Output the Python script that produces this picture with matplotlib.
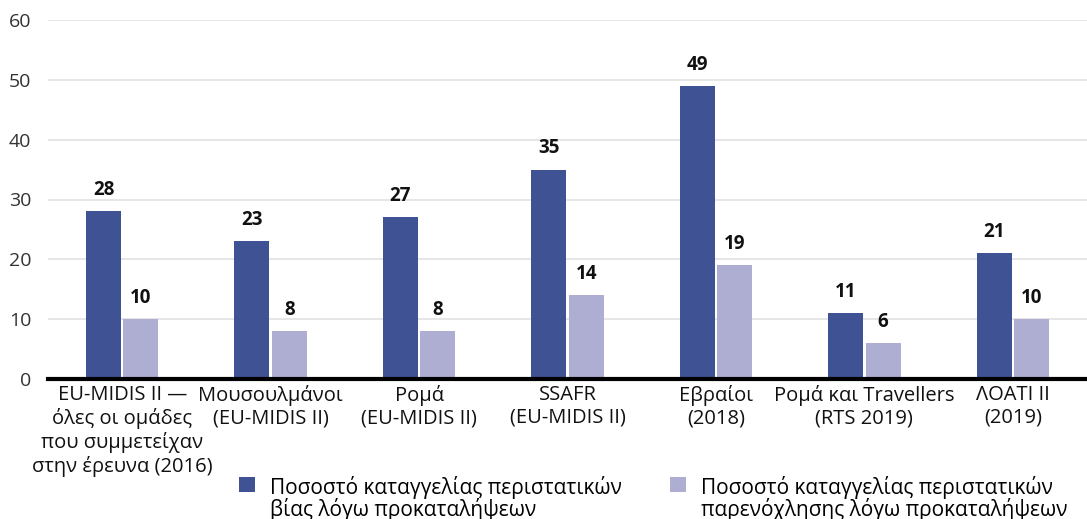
import matplotlib
matplotlib.use("Agg")
import matplotlib.pyplot as plt
from matplotlib.patches import Patch, Rectangle
from matplotlib.legend_handler import HandlerPatch
import numpy as np

plt.rcParams['font.family'] = ['Open Sans', 'DejaVu Sans']

categories = [
    "EU-MIDIS II —\nόλες οι ομάδες\nπου συμμετείχαν\nστην έρευνα (2016)",
    "Μουσουλμάνοι\n(EU-MIDIS II)",
    "Ρομά\n(EU-MIDIS II)",
    "SSAFR\n(EU-MIDIS II)",
    "Εβραίοι\n(2018)",
    "Ρομά και Travellers\n(RTS 2019)",
    "ΛΟΑΤΙ II\n(2019)",
]
violence = [28, 23, 27, 35, 49, 11, 21]
harassment = [10, 8, 8, 14, 19, 6, 10]
series_labels = [
    "Ποσοστό καταγγελίας περιστατικών\nβίας λόγω προκαταλήψεων",
    "Ποσοστό καταγγελίας περιστατικών\nπαρενόχλησης λόγω προκαταλήψεων",
]
yticks = [0, 10, 20, 30, 40, 50, 60]

dark = "#3E5294"
light = "#AEAED2"

fig = plt.figure(figsize=(10.87, 5.19), dpi=100)
ax = fig.add_axes([48 / 1087, 140 / 519, 1 - 48 / 1087, 359 / 519])

x = np.arange(len(categories))
w = 0.236
off = 0.126
b1 = ax.bar(x - off, violence, width=w, color=dark, zorder=3)
b2 = ax.bar(x + off, harassment, width=w, color=light, zorder=3)

for bars, vals in ((b1, violence), (b2, harassment)):
    for r, v in zip(bars, vals):
        ax.annotate(f"{v}", (r.get_x() + r.get_width() / 2, v),
                    xytext=(0, 8), textcoords="offset points",
                    ha="center", va="bottom", fontsize=13.5, fontweight="bold",
                    color="#111111")

ax.set_xlim(-0.5, len(categories) - 0.5)
ax.set_ylim(0, 60)
ax.set_yticks(yticks)
ax.set_yticklabels([str(t) for t in yticks], fontsize=14, color="#333333")
ax.tick_params(axis="y", length=0, pad=12)
ax.tick_params(axis="x", length=0)
ax.set_xticks(x)
ax.set_xticklabels(categories, fontsize=14.5, color="#111111", linespacing=1.2)
ax.tick_params(axis="x", pad=4)
ax.grid(axis="y", color="#E2E2E2", linewidth=1.2, zorder=0)
for s in ("top", "right", "left"):
    ax.spines[s].set_visible(False)
ax.spines["bottom"].set_linewidth(3)
ax.spines["bottom"].set_color("black")
ax.spines["bottom"].set_zorder(4)


def top_aligned_square(legend, orig_handle, xdescent, ydescent, width, height, fontsize):
    # lift the swatch so it sits beside the first line of a two-line label
    return Rectangle((-xdescent, -ydescent + 0.72 * fontsize), width, height)


handles = [Patch(facecolor=dark), Patch(facecolor=light)]
leg = fig.legend(handles, series_labels, loc="upper left",
                 bbox_to_anchor=(239 / 1087, 1 - 476 / 519), ncol=2, frameon=False,
                 fontsize=15, handlelength=0.75, handleheight=0.75, handletextpad=0.75,
                 columnspacing=2.3, borderaxespad=0, borderpad=0, labelspacing=0,
                 handler_map={Patch: HandlerPatch(patch_func=top_aligned_square)})
for t in leg.get_texts():
    t.set_linespacing(0.95)

fig.savefig("out.png", dpi=100)
